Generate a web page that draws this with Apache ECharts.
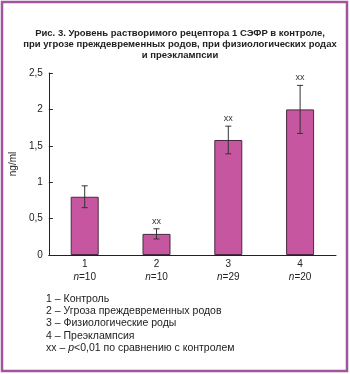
<!DOCTYPE html>
<html><head><meta charset="utf-8">
<script src="https://cdn.jsdelivr.net/npm/echarts@6/dist/echarts.min.js"></script>
<style>html,body{margin:0;padding:0;background:#fff}#c{width:350px;height:374px}</style>
</head><body><div id="c"></div>
<script>
var categories = ['1', '2', '3', '4'];
var groupSizes = ['10', '10', '29', '20'];
var means = [0.80, 0.29, 1.58, 2.00];
var errors = [0.15, 0.07, 0.19, 0.33];
var significance = ['', 'xx', 'xx', 'xx'];
var yTicks = [0, 0.5, 1, 1.5, 2, 2.5];
var titleLines = ['Рис. 3. Уровень растворимого рецептора 1 СЭФР в контроле,', 'при угрозе преждевременных родов, при физиологических родах', 'и преэклампсии'];
var legendLines = ['1 – Контроль', '2 – Угроза преждевременных родов', '3 – Физиологические роды', '4 – Преэклампсия'];

var chart = echarts.init(document.getElementById('c'));
var font = 'Liberation Sans, Arial, sans-serif';
var legendText = legendLines.join('\n') + '\nxx – {i|p}<0,01 по сравнению с контролем';

chart.setOption({
  animation: false,
  title: [{
    text: titleLines.join('\n'),
    left: 175, top: 23, textAlign: 'center',
    textStyle: {fontFamily: font, fontSize: 9.5, fontWeight: 'bold', color: '#222', lineHeight: 11}
  }, {
    text: legendText,
    left: 41, top: 288,
    textStyle: {fontFamily: font, fontSize: 10.5, fontWeight: 'normal', color: '#222', lineHeight: 12.2,
      rich: {i: {fontFamily: font, fontSize: 10.5, fontStyle: 'italic', color: '#222', lineHeight: 12.2}}}
  }],
  graphic: [{
    type: 'rect', shape: {x: 2, y: 2, width: 345, height: 369},
    style: {fill: 'none', stroke: '#a0569c', lineWidth: 2.5}, silent: true
  }],
  grid: {left: 48, right: 14, top: 73, bottom: 119},
  xAxis: {
    type: 'category', data: categories,
    axisLine: {lineStyle: {color: '#222', width: 1}},
    axisTick: {inside: true, length: 4, lineStyle: {color: '#222'}},
    axisLabel: {
      color: '#222', fontFamily: font, fontSize: 10, margin: 3, lineHeight: 13,
      formatter: function (v, i) { return v + '\n{i|n}=' + groupSizes[i]; },
      rich: {i: {fontStyle: 'italic', fontFamily: font, fontSize: 10, color: '#222'}}
    }
  },
  yAxis: {
    type: 'value', min: 0, max: 2.5, interval: 0.5,
    name: 'ng/ml', nameLocation: 'middle', nameGap: 27, nameRotate: 90,
    nameTextStyle: {color: '#222', fontFamily: font, fontSize: 10},
    axisLine: {show: true, lineStyle: {color: '#222', width: 1}},
    axisTick: {show: true, inside: true, length: 4, lineStyle: {color: '#222'}},
    splitLine: {show: false},
    axisLabel: {color: '#222', fontFamily: font, fontSize: 10, margin: 6,
      formatter: function (v) { return yTicks.indexOf(v) >= 0 ? String(v).replace('.', ',') : ''; }}
  },
  series: [{
    type: 'bar', data: means, barWidth: 28,
    itemStyle: {color: '#c6569f', borderColor: '#4a2a40', borderWidth: 1}
  }, {
    type: 'custom',
    data: means.map(function (m, i) { return [i, m - errors[i], m + errors[i]]; }),
    renderItem: function (params, api) {
      var x = api.value(0);
      var lo = api.coord([x, api.value(1)]);
      var hi = api.coord([x, api.value(2)]);
      var w = 3;
      var st = {stroke: '#333', lineWidth: 1};
      return {type: 'group', children: [
        {type: 'line', shape: {x1: lo[0], y1: lo[1], x2: hi[0], y2: hi[1]}, style: st},
        {type: 'line', shape: {x1: lo[0] - w, y1: lo[1], x2: lo[0] + w, y2: lo[1]}, style: st},
        {type: 'line', shape: {x1: hi[0] - w, y1: hi[1], x2: hi[0] + w, y2: hi[1]}, style: st},
        {type: 'text', x: hi[0], y: hi[1] - 3, style: {text: significance[params.dataIndex], fill: '#333',
          font: '9px ' + font, textAlign: 'center', textVerticalAlign: 'bottom'}}
      ]};
    },
    z: 5
  }]
});
</script></body></html>
